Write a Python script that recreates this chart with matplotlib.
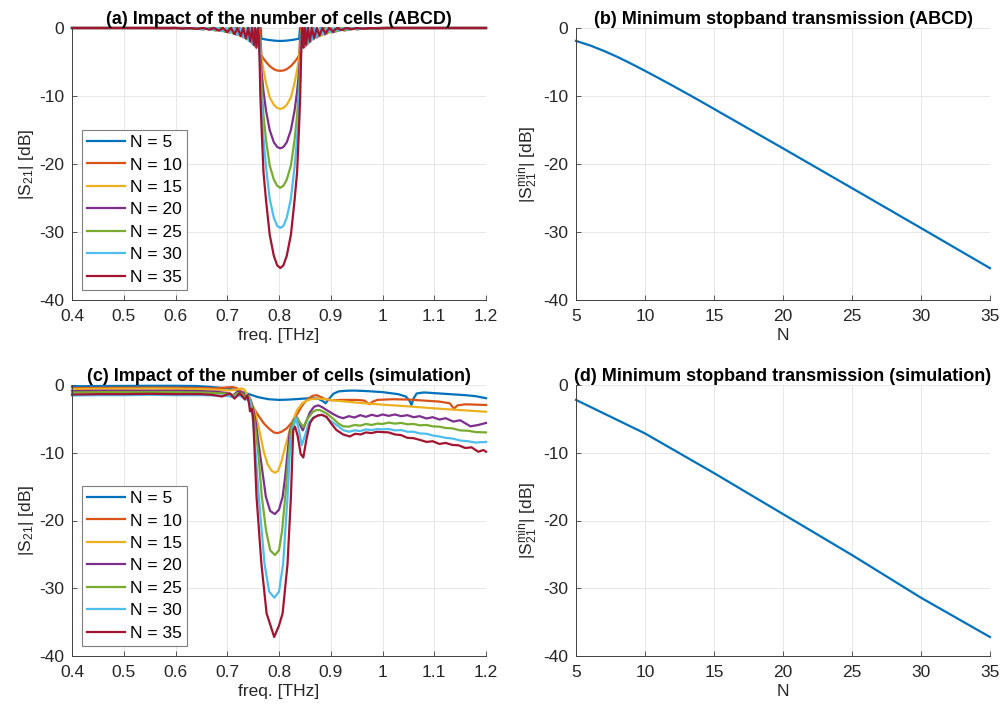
import matplotlib
matplotlib.use('Agg')
import matplotlib.pyplot as plt
import numpy as np
from matplotlib.ticker import FuncFormatter

plt.rcParams['font.family'] = ['Liberation Sans', 'DejaVu Sans']
plt.rcParams['axes.unicode_minus'] = False
plt.rcParams['mathtext.fontset'] = 'custom'
plt.rcParams['mathtext.rm'] = 'Liberation Sans'
plt.rcParams['mathtext.it'] = 'Liberation Sans'
plt.rcParams['mathtext.bf'] = 'Liberation Sans:bold'
plt.rcParams['mathtext.default'] = 'regular'

# ---------------- data ----------------
N_values = [5, 10, 15, 20, 25, 30, 35]
labels = ['N = 5', 'N = 10', 'N = 15', 'N = 20', 'N = 25', 'N = 30', 'N = 35']
colors = ['#0072BD', '#D95319', '#EDB120', '#7E2F8E', '#77AC30', '#4DBEEE', '#A2142F']

# (a) ABCD model |S21| [dB] vs freq [THz]
A_N5 = [(0.40, 0), (0.55, -0.01), (0.62, 0), (0.635, -0.08), (0.649, -0.15), (0.661, -0.08), (0.6735, 0),
        (0.686, -0.3), (0.698, -0.55), (0.707, -0.3), (0.7155, 0), (0.724, -0.75), (0.733, -1.3), (0.742, -1.1),
        (0.752, -0.6), (0.7645, 0),
        (0.766, -1.55), (0.770, -1.63), (0.775, -1.7), (0.782, -1.78), (0.790, -1.85), (0.7965, -1.89), (0.8025, -1.9),
        (0.8085, -1.89), (0.815, -1.85), (0.823, -1.78), (0.830, -1.7), (0.835, -1.63), (0.839, -1.55),
        (0.8405, 0), (0.852, -0.6), (0.862, -1.1), (0.872, -1.25), (0.881, -0.75), (0.8895, 0), (0.898, -0.3),
        (0.907, -0.5), (0.919, -0.3), (0.9315, 0), (0.944, -0.08), (0.956, -0.14), (0.972, -0.07), (0.99, 0), (1.2, 0)]
A_N10 = [(0.40, 0), (0.58, 0), (0.62, 0), (0.6405, -0.13), (0.658, 0), (0.6755, -0.33), (0.690, 0), (0.705, -0.67),
         (0.718, 0), (0.730, -1.3), (0.739, 0), (0.747, -2.05), (0.755, -1.2), (0.7625, 0),
         (0.764, -1.0), (0.766, -4.0), (0.770, -4.5), (0.775, -5.0), (0.782, -5.6), (0.790, -6.05), (0.7965, -6.25),
         (0.8025, -6.3), (0.8085, -6.25), (0.815, -6.05), (0.823, -5.6), (0.830, -5.0), (0.835, -4.5), (0.839, -4.0),
         (0.841, -1.0), (0.8425, 0), (0.850, -1.2), (0.8585, -2.0), (0.867, 0), (0.8755, -1.25), (0.888, 0),
         (0.9005, -0.65), (0.915, 0), (0.930, -0.3), (0.9475, 0), (0.965, -0.12), (0.99, 0), (1.2, 0)]
A_N15 = [(0.40, 0), (0.59, 0), (0.619, -0.07), (0.635, 0), (0.651, -0.16), (0.665, 0), (0.679, -0.35), (0.691, 0),
         (0.703, -0.67), (0.713, 0), (0.7225, -1.1), (0.731, 0), (0.739, -1.7), (0.745, 0), (0.7505, -2.4),
         (0.7595, 0),
         (0.761, -0.4), (0.7625, -1.8), (0.764, -3.2), (0.766, -4.3), (0.770, -6.2), (0.775, -8.1), (0.782, -10.2),
         (0.790, -11.3), (0.7965, -11.75), (0.8025, -11.9), (0.8085, -11.75), (0.815, -11.3), (0.823, -10.2),
         (0.830, -8.1), (0.835, -6.2), (0.839, -4.3), (0.841, -3.2), (0.8425, -1.8), (0.844, -0.4),
         (0.8455, 0), (0.8545, -2.4), (0.860, 0), (0.866, -1.7), (0.874, 0), (0.8825, -1.1), (0.892, 0),
         (0.902, -0.67), (0.914, 0), (0.926, -0.35), (0.94, 0), (0.954, -0.16), (0.97, 0), (0.986, -0.07),
         (1.01, 0), (1.2, 0)]
A_N20 = [(0.40, 0), (0.60, 0), (0.626, -0.08), (0.64, 0), (0.654, -0.19), (0.6665, 0), (0.679, -0.35), (0.6895, 0),
         (0.700, -0.62), (0.7085, 0), (0.717, -0.95), (0.7245, 0), (0.732, -1.4), (0.738, 0), (0.7444, -2.0),
         (0.749, 0), (0.7531, -2.6), (0.7595, 0),
         (0.761, -0.5), (0.7625, -2.4), (0.764, -4.3), (0.766, -6.2), (0.770, -9.3), (0.775, -12.2), (0.782, -15.0),
         (0.790, -16.8), (0.7965, -17.5), (0.8025, -17.7), (0.8085, -17.5), (0.815, -16.8), (0.823, -15.0),
         (0.830, -12.2), (0.835, -9.3), (0.839, -6.2), (0.841, -4.3), (0.8425, -2.4), (0.844, -0.5),
         (0.8455, 0), (0.8519, -2.6), (0.856, 0), (0.8606, -2.0), (0.867, 0), (0.873, -1.4), (0.8805, 0),
         (0.888, -0.95), (0.8965, 0), (0.905, -0.62), (0.9155, 0), (0.926, -0.35), (0.9385, 0), (0.951, -0.19),
         (0.965, 0), (0.979, -0.08), (1.0, 0), (1.2, 0)]
A_N25 = [(0.40, 0), (0.60, 0), (0.627, -0.09), (0.64, 0), (0.653, -0.19), (0.6645, 0), (0.676, -0.33), (0.6855, 0),
         (0.695, -0.53), (0.7035, 0), (0.712, -0.85), (0.719, 0), (0.726, -1.2), (0.732, 0), (0.738, -1.65),
         (0.743, 0), (0.7477, -2.25), (0.7515, 0), (0.7547, -2.75), (0.7595, 0),
         (0.761, -0.6), (0.7625, -2.8), (0.764, -5.5), (0.766, -8.3), (0.770, -12.8), (0.775, -16.5), (0.782, -20.2),
         (0.790, -22.3), (0.7965, -23.2), (0.8025, -23.5), (0.8085, -23.2), (0.815, -22.3), (0.823, -20.2),
         (0.830, -16.5), (0.835, -12.8), (0.839, -8.3), (0.841, -5.5), (0.8425, -2.8), (0.844, -0.6),
         (0.8455, 0), (0.8503, -2.75), (0.854, 0), (0.8573, -2.25), (0.862, 0), (0.867, -1.65), (0.873, 0),
         (0.879, -1.2), (0.886, 0), (0.893, -0.85), (0.9015, 0), (0.910, -0.53), (0.9195, 0), (0.929, -0.33),
         (0.9405, 0), (0.952, -0.19), (0.965, 0), (0.978, -0.09), (1.0, 0), (1.2, 0)]
A_N30 = [(0.40, 0), (0.60, 0), (0.622, -0.08), (0.6355, 0), (0.649, -0.16), (0.660, 0), (0.671, -0.3), (0.6805, 0),
         (0.690, -0.47), (0.698, 0), (0.706, -0.72), (0.713, 0), (0.720, -1.05), (0.726, 0), (0.732, -1.4),
         (0.737, 0), (0.742, -1.9), (0.746, 0), (0.750, -2.4), (0.753, 0), (0.7557, -2.85), (0.7595, 0),
         (0.761, -0.8), (0.7625, -3.5), (0.764, -7.0), (0.766, -10.5), (0.770, -16.2), (0.775, -20.5),
         (0.782, -25.1), (0.790, -27.9), (0.7965, -29.1), (0.8025, -29.4), (0.8085, -29.1), (0.815, -27.9),
         (0.823, -25.1), (0.830, -20.5), (0.835, -16.2), (0.839, -10.5), (0.841, -7.0), (0.8425, -3.5),
         (0.844, -0.8),
         (0.8455, 0), (0.8493, -2.75), (0.852, 0), (0.855, -2.3), (0.859, 0), (0.863, -1.75), (0.868, 0),
         (0.873, -1.3), (0.879, 0), (0.885, -0.9), (0.892, 0), (0.899, -0.6), (0.907, 0), (0.915, -0.37),
         (0.9245, 0), (0.934, -0.22), (0.945, 0), (0.956, -0.12), (0.9695, 0), (0.983, -0.06), (1.0, 0), (1.2, 0)]
A_N35 = [(0.40, 0), (0.55, 0), (0.585, -0.03), (0.60, 0), (0.615, -0.07), (0.6285, 0), (0.642, -0.13), (0.6535, 0),
         (0.665, -0.25), (0.6745, 0), (0.684, -0.4), (0.692, 0), (0.70, -0.6), (0.707, 0), (0.714, -0.9), (0.720, 0),
         (0.726, -1.2), (0.731, 0), (0.736, -1.55), (0.7405, 0), (0.7445, -1.95), (0.748, 0), (0.7515, -2.5),
         (0.754, 0), (0.7565, -2.9), (0.7595, 0),
         (0.761, -1.0), (0.7625, -4.7), (0.764, -10.0), (0.766, -14.1), (0.770, -21.2), (0.775, -25.4),
         (0.782, -30.4), (0.790, -33.5), (0.7965, -34.9), (0.8025, -35.3), (0.8085, -34.9), (0.815, -33.5),
         (0.823, -30.4), (0.830, -25.4), (0.835, -21.2), (0.839, -14.1), (0.841, -10.0), (0.8425, -4.7),
         (0.844, -1.0),
         (0.8455, 0), (0.8475, -2.9), (0.850, 0), (0.8525, -2.45), (0.856, 0), (0.8595, -1.95), (0.8635, 0),
         (0.868, -1.5), (0.873, 0), (0.878, -1.1), (0.884, 0), (0.890, -0.8), (0.897, 0), (0.904, -0.5), (0.912, 0),
         (0.920, -0.32), (0.9295, 0), (0.939, -0.2), (0.9505, 0), (0.962, -0.1), (0.976, 0), (0.99, -0.05),
         (1.01, 0), (1.2, 0)]
abcd_curves = [A_N5, A_N10, A_N15, A_N20, A_N25, A_N30, A_N35]

# (b) ABCD minimum stopband transmission [dB] vs N
N_abcd = list(range(5, 36))
S21min_abcd = [-1.9, -2.55, -3.35, -4.25, -5.25, -6.3, -7.38, -8.48, -9.6, -10.74, -11.9,
               -13.06, -14.22, -15.38, -16.54, -17.7, -18.87, -20.04, -21.21, -22.38, -23.55,
               -24.72, -25.9, -27.07, -28.25, -29.42, -30.6, -31.78, -32.96, -34.14, -35.32]

# (c) simulation |S21| [dB] vs freq [THz]
C_N5 = [(0.40, -0.2), (0.45, -0.15), (0.50, -0.14), (0.55, -0.12), (0.60, -0.12), (0.64, -0.15), (0.67, -0.3),
        (0.70, -0.5), (0.72, -0.8), (0.74, -1.3), (0.76, -1.8), (0.78, -2.1), (0.80, -2.2), (0.82, -2.15),
        (0.84, -2.05), (0.86, -1.95), (0.875, -2.0), (0.884, -2.35), (0.890, -2.7), (0.896, -2.1), (0.905, -1.3),
        (0.915, -0.95), (0.93, -0.85), (0.945, -0.82), (0.97, -0.9), (1.0, -1.05), (1.03, -1.35), (1.045, -1.7),
        (1.052, -2.3), (1.056, -2.95), (1.060, -2.0), (1.066, -1.25), (1.08, -1.1), (1.10, -1.2), (1.13, -1.35),
        (1.16, -1.5), (1.18, -1.65), (1.2, -1.95)]
C_N10 = [(0.40, -0.45), (0.5, -0.4), (0.6, -0.4), (0.65, -0.45), (0.68, -0.5), (0.70, -0.35), (0.71, -0.3),
         (0.72, -0.5), (0.73, -1.2), (0.74, -2.2), (0.75, -3.3), (0.76, -4.5), (0.77, -5.6), (0.78, -6.4),
         (0.79, -7.0), (0.797, -7.1), (0.805, -6.9), (0.815, -6.4), (0.825, -5.5), (0.835, -4.3), (0.845, -3.0),
         (0.855, -2.1), (0.865, -1.6), (0.873, -1.5), (0.88, -1.75), (0.89, -2.1), (0.90, -2.25), (0.92, -2.2),
         (0.95, -2.2), (0.965, -2.3), (0.975, -2.85), (0.98, -2.5), (0.99, -2.2), (1.02, -2.1), (1.05, -2.15),
         (1.08, -2.3), (1.11, -2.45), (1.13, -2.7), (1.138, -3.5), (1.145, -3.0), (1.16, -2.85), (1.2, -2.95)]
C_N15 = [(0.40, -0.6), (0.45, -0.55), (0.5, -0.55), (0.55, -0.52), (0.6, -0.55), (0.65, -0.6), (0.68, -0.7),
         (0.70, -0.8), (0.715, -0.75), (0.722, -0.6), (0.728, -0.5), (0.733, -0.7), (0.738, -1.3), (0.745, -2.3),
         (0.753, -3.7), (0.76, -6.0), (0.765, -7.8), (0.771, -10.0), (0.778, -11.7), (0.785, -12.6),
         (0.792, -12.95), (0.798, -12.7), (0.804, -11.5), (0.809, -10.0), (0.815, -8.3), (0.821, -6.6),
         (0.828, -5.0), (0.835, -3.7), (0.845, -2.7), (0.855, -2.25), (0.865, -2.05), (0.875, -2.0), (0.89, -2.1),
         (0.91, -2.3), (0.95, -2.6), (1.0, -2.9), (1.05, -3.15), (1.1, -3.45), (1.15, -3.7), (1.2, -3.95)]
C_N20 = [(0.40, -0.9), (0.45, -0.85), (0.5, -0.85), (0.55, -0.85), (0.6, -0.85), (0.65, -0.9), (0.68, -1.0),
         (0.70, -1.2), (0.711, -1.5), (0.72, -1.0), (0.727, -1.1), (0.734, -1.7), (0.740, -1.5), (0.745, -2.2),
         (0.750, -3.5), (0.755, -5.5), (0.763, -10.0), (0.7746, -16.5), (0.783, -18.6), (0.792, -19.05),
         (0.800, -18.4), (0.807, -16.5), (0.812, -13.5), (0.8165, -10.0), (0.821, -6.8), (0.828, -5.2),
         (0.835, -4.8), (0.841, -5.9), (0.846, -6.7), (0.852, -5.5), (0.86, -4.0), (0.868, -3.2), (0.876, -3.0),
         (0.884, -3.3), (0.892, -3.7), (0.905, -4.3), (0.915, -4.7), (0.924, -4.9), (0.935, -4.6), (0.946, -4.8),
         (0.957, -4.45), (0.968, -4.7), (0.979, -4.4), (0.99, -4.6), (1.0, -4.35), (1.012, -4.55), (1.024, -4.35),
         (1.036, -4.6), (1.048, -4.45), (1.06, -4.75), (1.072, -4.6), (1.085, -4.95), (1.097, -4.75),
         (1.11, -5.1), (1.122, -4.9), (1.137, -5.4), (1.15, -5.2), (1.17, -6.1), (1.185, -5.9), (1.2, -5.6)]
C_N25 = [(0.40, -1.1), (0.45, -1.05), (0.5, -1.05), (0.55, -1.05), (0.6, -1.05), (0.65, -1.1), (0.68, -1.2),
         (0.70, -1.3), (0.712, -1.55), (0.72, -1.2), (0.728, -1.3), (0.735, -1.9), (0.741, -1.6), (0.746, -2.6),
         (0.752, -5.0), (0.760, -10.0), (0.7668, -16.5), (0.775, -21.5), (0.783, -24.4), (0.792, -25.1),
         (0.800, -24.4), (0.806, -21.5), (0.812, -16.5), (0.819, -10.0), (0.823, -6.65), (0.828, -5.3),
         (0.834, -4.8), (0.840, -5.5), (0.847, -6.2), (0.855, -5.0), (0.865, -4.0), (0.872, -3.7), (0.879, -3.7),
         (0.892, -4.2), (0.905, -5.0), (0.915, -5.7), (0.924, -6.1), (0.935, -6.15), (0.946, -5.9), (0.957, -6.0),
         (0.968, -5.75), (0.979, -5.9), (0.99, -5.7), (1.0, -5.75), (1.012, -5.55), (1.024, -5.7), (1.036, -5.6),
         (1.048, -5.8), (1.06, -5.75), (1.072, -5.95), (1.085, -5.9), (1.097, -6.1), (1.11, -6.15), (1.122, -6.35),
         (1.135, -6.4), (1.15, -6.7), (1.165, -6.75), (1.18, -6.95), (1.2, -7.0)]
C_N30 = [(0.40, -1.55), (0.45, -1.5), (0.5, -1.5), (0.55, -1.45), (0.6, -1.5), (0.65, -1.5), (0.68, -1.55),
         (0.70, -1.6), (0.712, -1.8), (0.72, -1.5), (0.728, -1.7), (0.735, -2.2), (0.741, -1.8), (0.746, -3.0),
         (0.752, -7.0), (0.761, -16.5), (0.772, -26.4), (0.781, -30.5), (0.791, -31.4), (0.800, -30.5),
         (0.808, -26.4), (0.8165, -16.5), (0.821, -10.0), (0.826, -6.6), (0.833, -4.9), (0.838, -6.5),
         (0.844, -8.9), (0.850, -7.5), (0.858, -5.5), (0.866, -4.8), (0.876, -4.5), (0.885, -4.4), (0.898, -5.2),
         (0.911, -5.9), (0.924, -6.65), (0.935, -6.9), (0.946, -6.7), (0.957, -6.8), (0.968, -6.55), (0.979, -6.65),
         (0.99, -6.5), (1.0, -6.55), (1.012, -6.5), (1.024, -6.7), (1.036, -6.65), (1.048, -6.9), (1.06, -6.9),
         (1.072, -7.15), (1.085, -7.2), (1.097, -7.45), (1.11, -7.6), (1.122, -7.8), (1.135, -7.9), (1.15, -8.2),
         (1.165, -8.3), (1.18, -8.5), (1.2, -8.4)]
C_N35 = [(0.40, -1.4), (0.45, -1.35), (0.5, -1.35), (0.55, -1.3), (0.6, -1.35), (0.65, -1.35), (0.67, -1.45),
         (0.69, -1.7), (0.705, -1.23), (0.714, -2.0), (0.724, -1.23), (0.734, -2.1), (0.739, -1.6), (0.742, -2.7),
         (0.744, -3.9), (0.747, -3.5), (0.750, -4.7), (0.7566, -16.5), (0.766, -26.4), (0.776, -33.7),
         (0.7907, -37.2), (0.800, -35.5), (0.807, -33.7), (0.8165, -26.4), (0.823, -16.5), (0.8275, -6.65),
         (0.831, -6.15), (0.836, -7.5), (0.842, -10.2), (0.847, -10.7), (0.853, -8.0), (0.860, -5.6), (0.866, -4.9),
         (0.875, -4.5), (0.882, -4.4), (0.892, -4.7), (0.90, -5.6), (0.911, -6.65), (0.924, -7.3), (0.937, -7.6),
         (0.947, -7.2), (0.958, -7.3), (0.968, -7.0), (0.979, -7.1), (0.989, -6.9), (1.0, -6.95), (1.012, -7.0),
         (1.024, -7.3), (1.036, -7.4), (1.048, -7.8), (1.06, -7.85), (1.072, -8.1), (1.085, -8.4), (1.097, -8.3),
         (1.11, -8.7), (1.122, -8.55), (1.135, -8.85), (1.147, -8.9), (1.16, -9.3), (1.172, -9.2), (1.185, -9.85),
         (1.195, -9.6), (1.2, -9.85)]
sim_curves = [C_N5, C_N10, C_N15, C_N20, C_N25, C_N30, C_N35]

# (d) simulated minimum stopband transmission [dB]
N_sim = [5, 10, 15, 20, 25, 30, 35]
S21min_sim = [-2.2, -7.15, -13.0, -19.05, -25.1, -31.4, -37.2]

freq_ticks = [0.4, 0.5, 0.6, 0.7, 0.8, 0.9, 1.0, 1.1, 1.2]
N_ticks = [5, 10, 15, 20, 25, 30, 35]
db_ticks = [-40, -30, -20, -10, 0]

# ---------------- figure ----------------
W, H = 1003, 712
fig = plt.figure(figsize=(W / 100, H / 100), dpi=100)

def px_axes(x0, y0, x1, y1):
    return fig.add_axes([x0 / W, 1 - y1 / H, (x1 - x0) / W, (y1 - y0) / H])

ax_a = px_axes(72, 28, 486, 300)
ax_b = px_axes(576, 28, 990, 300)
ax_c = px_axes(72, 385, 486, 656)
ax_d = px_axes(576, 385, 990, 656)

fmt = FuncFormatter(lambda v, p: '%g' % v)
AX_COL = '#404040'
TXT_COL = '#262626'
FS = 12.5

def style(ax, xlim, xticks):
    ax.set_xlim(*xlim)
    ax.set_ylim(-40, 0)
    ax.set_xticks(xticks)
    ax.set_yticks(db_ticks)
    ax.xaxis.set_major_formatter(fmt)
    ax.yaxis.set_major_formatter(fmt)
    ax.grid(True, color='#e3e3e3', linewidth=0.6)
    ax.set_axisbelow(True)
    for s in ['top', 'right']:
        ax.spines[s].set_visible(False)
    for s in ['left', 'bottom']:
        ax.spines[s].set_color(AX_COL)
        ax.spines[s].set_linewidth(0.7)
    ax.tick_params(direction='in', length=3.5, width=0.6, color=AX_COL,
                   labelsize=FS, labelcolor=TXT_COL)
    ax.tick_params(axis='x', pad=6.5)
    ax.tick_params(axis='y', pad=5.5)

title_kw = dict(fontsize=13, fontweight='bold', color='black', pad=3)
lab_kw = dict(fontsize=FS, color=TXT_COL)

for ax, curves, ttl in [(ax_a, abcd_curves, '(a) Impact of the number of cells (ABCD)'),
                        (ax_c, sim_curves, '(c) Impact of the number of cells (simulation)')]:
    style(ax, (0.4, 1.2), freq_ticks)
    for pts, col, lab in zip(curves, colors, labels):
        arr = np.array(pts)
        ax.plot(arr[:, 0], arr[:, 1], color=col, lw=1.6, label=lab, clip_on=False,
                solid_joinstyle='round')
    ax.set_title(ttl, **title_kw)
    ax.set_xlabel('freq. [THz]', labelpad=3, **lab_kw)
    ax.set_ylabel('|S$_{21}$| [dB]', labelpad=2, **lab_kw)
    leg = ax.legend(loc='lower left', bbox_to_anchor=(0.024, 0.037), fontsize=FS,
                    frameon=True, fancybox=False, edgecolor='#7f7f7f', framealpha=1,
                    handlelength=2.2, handletextpad=0.25, labelspacing=0.42,
                    borderpad=0.3, borderaxespad=0)
    leg.get_frame().set_linewidth(0.8)

for ax, xs, ys, ttl in [(ax_b, N_abcd, S21min_abcd, '(b) Minimum stopband transmission (ABCD)'),
                        (ax_d, N_sim, S21min_sim, '(d) Minimum stopband transmission (simulation)')]:
    style(ax, (5, 35), N_ticks)
    ax.plot(xs, ys, color=colors[0], lw=1.6, clip_on=False)
    ax.set_title(ttl, **title_kw)
    ax.set_xlabel('N', labelpad=3, **lab_kw)
    ax.set_ylabel('|S$_{21}^{min}$| [dB]', labelpad=2, **lab_kw)

fig.savefig('out.png', dpi=100)
